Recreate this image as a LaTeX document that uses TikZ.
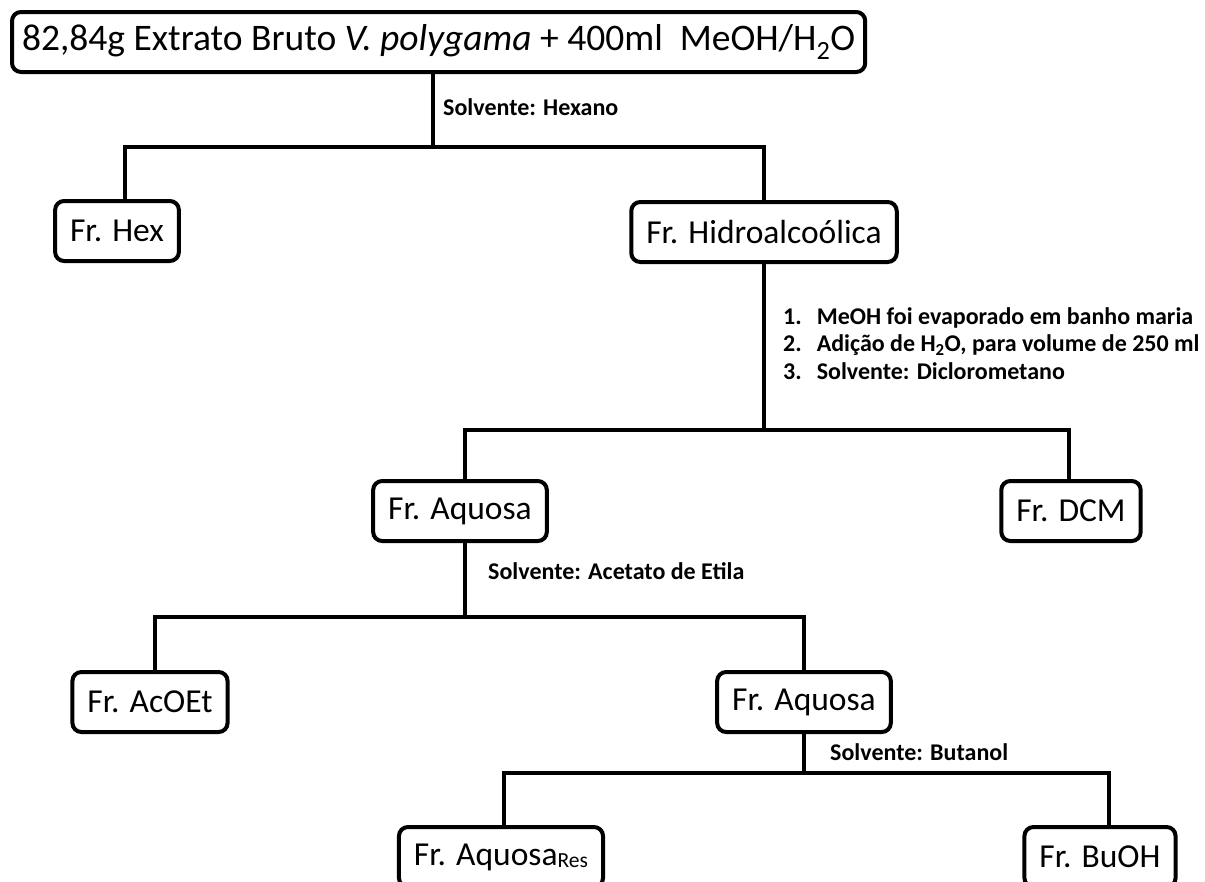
\documentclass[tikz,border=0pt]{standalone}
\usepackage{fontspec}
\setmainfont{Carlito}
\usepackage{tikz}
\usetikzlibrary{positioning}

\begin{document}
\begin{tikzpicture}[x=1pt,y=-1pt,
		fracbox/.style={draw,line width=4pt,rounded corners=9pt,minimum height=60pt,
			inner xsep=15pt,inner ysep=0pt,font=\fontsize{33.5}{40}\selectfont},
		solvlbl/.style={inner sep=0pt,font=\fontsize{24}{27.5}\selectfont\bfseries},
		link/.style={line width=4.5pt}]
		\useasboundingbox (0,0) rectangle (1205,881);
		% boxes
		\node[fracbox,anchor=west,inner xsep=10pt,font=\fontsize{37.5}{42}\selectfont] (crude) at (10,42) {82,84g Extrato Bruto \textit{V. polygama} + 400ml\ \ MeOH/H\textsubscript{2}O};
		\node[fracbox] (hex) at (117,231) {Fr. Hex};
		\node[fracbox] (hidro) at (764,232) {Fr. Hidroalcoólica};
		\node[fracbox] (aq1) at (460,511) {Fr. Aquosa};
		\node[fracbox] (dcm) at (1071,511) {Fr. DCM};
		\node[fracbox] (acoet) at (150,702) {Fr. AcOEt};
		\node[fracbox] (aq2) at (804,702) {Fr. Aquosa};
		\node[fracbox] (aqres) at (501,857) {Fr. Aquosa\raisebox{-2pt}{\fontsize{21.5}{22}\selectfont Res}};
		\node[fracbox] (buoh) at (1100,857) {Fr. BuOH};
		%
		% labels
		\node[solvlbl,anchor=west] (lhex) at (443,107) {Solvente: Hexano};
		\node[solvlbl,anchor=north west] (lsteps) at (783,305) {%
			\begin{tabular}{@{}l@{\hspace{15pt}}l@{}}
				1. & MeOH foi evaporado em banho maria\\
				2. & Adição de H\textsubscript{2}O, para volume de 250 ml\\
				3. & Solvente: Diclorometano
			\end{tabular}};
		\node[solvlbl,anchor=west] (lacet) at (488,571) {Solvente: Acetato de Etila};
		\node[solvlbl,anchor=west] (lbut) at (830,752) {Solvente: Butanol};
		%
		% branch points
		\coordinate (s1) at (433,147);
		\coordinate (b1l) at (125,147);
		\coordinate (s2) at (764,430);
		\coordinate (b2l) at (465,430);
		\coordinate (b2r) at (1069,430);
		\coordinate (s3) at (465,617);
		\coordinate (b3l) at (155,617);
		\coordinate (b3r) at (804,617);
		\coordinate (s4) at (804,773);
		\coordinate (b4l) at (504,773);
		\coordinate (b4r) at (1109,773);
		%
		% connectors
		\draw[link] (crude.south -| s1) -- (s1);
		\draw[link] (hex.north -| b1l) -- (b1l) -- (hidro.north |- b1l) -- (hidro.north);
		\draw[link] (hidro.south) -- (s2);
		\draw[link] (aq1.north -| b2l) -- (b2l) -- (b2r) -- (dcm.north -| b2r);
		\draw[link] (aq1.south -| s3) -- (s3);
		\draw[link] (acoet.north -| b3l) -- (b3l) -- (b3r) -- (aq2.north -| b3r);
		\draw[link] (aq2.south -| s4) -- (s4);
		\draw[link] (aqres.north -| b4l) -- (b4l) -- (b4r) -- (buoh.north -| b4r);
\end{tikzpicture}
\end{document}
